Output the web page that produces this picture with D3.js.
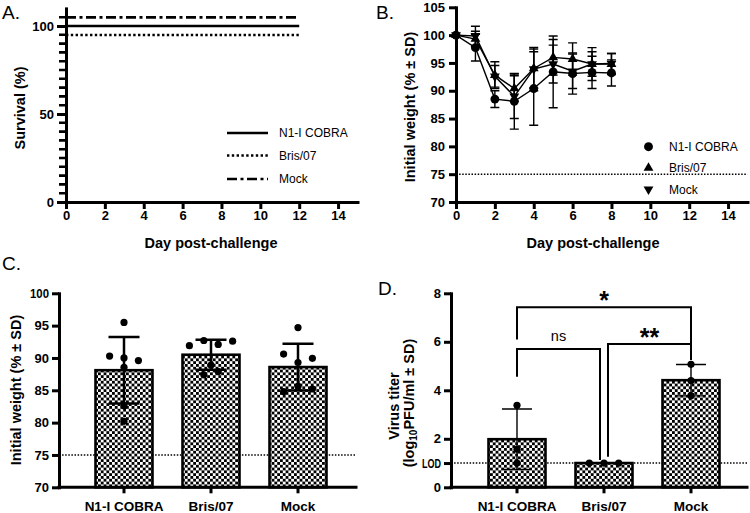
<!DOCTYPE html>
<html><head><meta charset="utf-8">
<script src="https://cdn.jsdelivr.net/npm/d3@7"></script>
<style>
body{margin:0;background:#fff;}
svg{display:block;}
</style></head><body>
<svg id="chart" width="750" height="513"></svg>
<script>
// ---------------- DATA ----------------
const groups = ["N1-I COBRA", "Bris/07", "Mock"];
const dayTicks = [0, 2, 4, 6, 8, 10, 12, 14];

// A. survival
const survivalDays = [0, 12];
const survivalCobra = [100, 100];
const survivalBris = [100, 100];
const survivalMock = [100, 100];
const survivalTicks = [0, 50, 100];
const survivalMinorTicks = [5,10,15,20,25,30,35,40,45,55,60,65,70,75,80,85,90,95,105];

// B. weight curves
const weightDays = [0, 1, 2, 3, 4, 5, 6, 7, 8];
const weightCobraMean = [100, 97.75, 88.5, 88.1, 90.4, 93.4, 93.1, 93.3, 93.2];
const weightCobraSD   = [0, 2.4, 1.5, 5.0, 6.6, 6.45, 3.7, 2.9, 2.35];
const weightBrisMean  = [100, 99.3, 92.8, 90.4, 94.0, 96.0, 95.7, 94.8, 94.8];
const weightBrisSD    = [0, 1.4, 2.4, 2.3, 3.5, 3.2, 2.9, 2.95, 1.9];
const weightMockMean  = [100, 99.85, 92.6, 89.0, 93.9, 94.8, 93.5, 94.8, 94.9];
const weightMockSD    = [0, 1.75, 1.95, 4.0, 3.9, 3.4, 3.1, 2.2, 1.8];
const weightTicks = [70, 75, 80, 85, 90, 95, 100, 105];
const weightThreshold = 75;

// C. individual weights
const nadirCobra = [95.5, 90.3, 90.0, 89.6, 88.55, 82.6, 80.2];
const nadirBris  = [91.9, 92.7, 92.1, 92.6, 88.9, 87.4, 87.9];
const nadirMock  = [94.7, 90.6, 89.3, 89.95, 84.8, 85.6, 85.2];
const nadirTicks = [70, 75, 80, 85, 90, 95, 100];

// D. virus titers
const titerCobra = [3.38, 1.57, 1.0];
const titerBris  = [1.0, 1.0, 1.0];
const titerMock  = [5.07, 4.4, 3.78];
const titerTicks = [0, 1, 2, 4, 6, 8];
const titerTickLabels = ["0", "LOD", "2", "4", "6", "8"];
const titerLOD = 1;

// significance comparisons (group indices, label, bracket level / leg ends in log10 units)
const sigPairs  = [[0, 2], [0, 1], [1, 2]];
const sigLabels = ["*", "ns", "**"];
const sigLevel  = [7.42, 5.7, 5.91];
const sigLegA   = [6.1, 4.56, 1.26];
const sigLegB   = [5.8, 1.13, 5.25];

// ---------------- DRAWING ----------------
const FONT = '"Liberation Sans", Arial, Helvetica, sans-serif';
const svg = d3.select("#chart").attr("font-family", FONT);

const defs = svg.append("defs");
const CS = 2.8;
const pat = defs.append("pattern").attr("id", "checker")
  .attr("patternUnits", "userSpaceOnUse").attr("width", 2 * CS).attr("height", 2 * CS);
pat.append("rect").attr("width", 2 * CS).attr("height", 2 * CS).attr("fill", "#fff");
pat.append("rect").attr("width", CS).attr("height", CS).attr("fill", "#000");
pat.append("rect").attr("x", CS).attr("y", CS).attr("width", CS).attr("height", CS).attr("fill", "#000");

function styleAxis(g, fs) {
  g.attr("font-family", FONT).attr("font-size", fs || 13).attr("font-weight", "bold");
  g.select(".domain").attr("stroke", "#000").attr("stroke-width", 3).attr("stroke-linecap", "square");
  g.selectAll(".tick line").attr("stroke", "#000").attr("stroke-width", 3);
  g.selectAll(".tick text").attr("fill", "#000");
}
function panelLabel(txt, x, y) {
  svg.append("text").attr("x", x).attr("y", y).attr("font-size", 19).attr("fill", "#000").text(txt);
}
function yTitle(txt, x, y) {
  svg.append("text").attr("transform", `translate(${x},${y}) rotate(-90)`)
    .attr("text-anchor", "middle").attr("font-size", 14.5).attr("font-weight", "bold").text(txt);
}
function xTitle(txt, x, y) {
  svg.append("text").attr("x", x).attr("y", y).attr("text-anchor", "middle")
    .attr("font-size", 14.5).attr("font-weight", "bold").text(txt);
}

// ===== Panel A =====
const xA = d3.scaleLinear().domain([0, 15]).range([66, 357.5]);
const yA = d3.scaleLinear().domain([0, 110]).range([202, 8.4]);
const gA = svg.append("g");
gA.append("g").attr("transform", `translate(${xA(0)},0)`)
  .call(d3.axisLeft(yA).tickValues(survivalTicks).tickSize(9).tickSizeOuter(0).tickPadding(3))
  .call(g => styleAxis(g, 13));
gA.append("path")
  .attr("d", survivalMinorTicks.map(v => `M${xA(0) - 7},${yA(v)}H${xA(0)}`).join(""))
  .attr("stroke", "#000").attr("stroke-width", 2.6).attr("fill", "none");
gA.append("g").attr("transform", `translate(0,${yA(0)})`)
  .call(d3.axisBottom(xA).tickValues(dayTicks).tickSize(7).tickSizeOuter(0).tickPadding(2))
  .call(g => styleAxis(g, 13));

const survSeries = [
  { name: groups[0], values: survivalCobra, dash: null, nudge: 0 },
  { name: groups[1], values: survivalBris, dash: "2.4,2.4", nudge: 9 },
  { name: groups[2], values: survivalMock, dash: "10,3.5,3,3.5", nudge: -8.7 }
];
survSeries.forEach((s, k) => {
  const line = d3.line().curve(d3.curveStepAfter)
    .x((d, i) => xA(survivalDays[i])).y(d => yA(d) + s.nudge);
  gA.append("path").datum(s.values).attr("d", line).attr("fill", "none")
    .attr("stroke", "#000").attr("stroke-width", 2.7).attr("stroke-dasharray", s.dash);
  const ly = [133, 155.5, 179][k];
  gA.append("line").attr("x1", 227).attr("x2", 268).attr("y1", ly).attr("y2", ly)
    .attr("stroke", "#000").attr("stroke-width", 2.7).attr("stroke-dasharray", s.dash);
  gA.append("text").attr("x", 279).attr("y", ly + 4.3).attr("font-size", 12).text(s.name);
});
panelLabel("A.", 2, 19);
yTitle("Survival (%)", 25, 108);
xTitle("Day post-challenge", 211, 248);

// ===== Panel B =====
const xB = d3.scaleLinear().domain([0, 15]).range([456, 747.5]);
const yB = d3.scaleLinear().domain([70, 105]).range([202, 7.3]);
const gB = svg.append("g");
gB.append("line").attr("x1", xB(0)).attr("x2", xB(15)).attr("y1", yB(weightThreshold)).attr("y2", yB(weightThreshold))
  .attr("stroke", "#000").attr("stroke-width", 1.5).attr("stroke-dasharray", "1.5,1.6");
gB.append("g").attr("transform", `translate(${xB(0)},0)`)
  .call(d3.axisLeft(yB).tickValues(weightTicks).tickSize(7).tickSizeOuter(0).tickPadding(4))
  .call(g => styleAxis(g, 13));
gB.append("g").attr("transform", `translate(0,${yB(70)})`)
  .call(d3.axisBottom(xB).tickValues(dayTicks).tickSize(7).tickSizeOuter(0).tickPadding(2))
  .call(g => styleAxis(g, 13));

const symCircle = d3.symbol().type(d3.symbolCircle).size(62)();
const symTri = d3.symbol().type(d3.symbolTriangle).size(42)();
const weightSeries = [
  { name: groups[2], mean: weightMockMean, sd: weightMockSD, sym: symTri, rot: 180 },
  { name: groups[1], mean: weightBrisMean, sd: weightBrisSD, sym: symTri, rot: 0 },
  { name: groups[0], mean: weightCobraMean, sd: weightCobraSD, sym: symCircle, rot: 0 }
];
weightSeries.forEach(s => {
  weightDays.forEach((d, i) => {
    if (s.sd[i] <= 0) return;
    const x = xB(d), y1 = yB(s.mean[i] - s.sd[i]), y2 = yB(s.mean[i] + s.sd[i]);
    gB.append("path").attr("d", `M${x},${y1}V${y2}M${x - 4.5},${y1}H${x + 4.5}M${x - 4.5},${y2}H${x + 4.5}`)
      .attr("stroke", "#000").attr("stroke-width", 1.4).attr("fill", "none");
  });
});
weightSeries.forEach(s => {
  const line = d3.line().x((d, i) => xB(weightDays[i])).y(d => yB(d));
  gB.append("path").datum(s.mean).attr("d", line).attr("fill", "none")
    .attr("stroke", "#000").attr("stroke-width", 1.4);
});
weightSeries.forEach(s => {
  gB.selectAll(null).data(s.mean).enter().append("path")
    .attr("d", s.sym)
    .attr("transform", (d, i) => `translate(${xB(weightDays[i])},${yB(d)}) rotate(${s.rot})`)
    .attr("fill", "#000");
});
// legend B
[{ name: groups[0], sym: symCircle, rot: 0 }, { name: groups[1], sym: symTri, rot: 0 }, { name: groups[2], sym: symTri, rot: 180 }]
  .forEach((s, k) => {
    const ly = [146.7, 168, 189.3][k];
    gB.append("path").attr("d", s.sym).attr("transform", `translate(648.5,${ly}) rotate(${s.rot})`).attr("fill", "#000");
    gB.append("text").attr("x", 669).attr("y", ly + 4.3).attr("font-size", 12).text(s.name);
  });
panelLabel("B.", 376, 19);
yTitle("Initial weight (% \u00B1 SD)", 415, 107);
xTitle("Day post-challenge", 593, 248);

// ===== helpers for bar panels =====
function rowOffsets(values, yScale, spacing, thresh) {
  const idx = values.map((v, i) => i).sort((a, b) => values[b] - values[a]);
  const rows = []; let cur = [idx[0]];
  for (let k = 1; k < idx.length; k++) {
    if (Math.abs(yScale(values[idx[k]]) - yScale(values[idx[k - 1]])) < thresh) cur.push(idx[k]);
    else { rows.push(cur); cur = [idx[k]]; }
  }
  rows.push(cur);
  const off = new Array(values.length);
  rows.forEach(r => { r.sort((a, b) => a - b); r.forEach((i, j) => off[i] = (j - (r.length - 1) / 2) * spacing); });
  return off;
}

function barPanel(cfg) {
  const g = svg.append("g");
  const x = cfg.x, y = cfg.y;
  const base = y.domain()[0];
  g.append("line").attr("x1", cfg.axisX).attr("x2", cfg.axisEnd).attr("y1", y(cfg.refLine)).attr("y2", y(cfg.refLine))
    .attr("stroke", "#000").attr("stroke-width", 1.5).attr("stroke-dasharray", "1.5,1.6");
  cfg.data.forEach((vals, k) => {
    const m = d3.mean(vals), sd = d3.deviation(vals) || 0;
    const cx = x(groups[k]) + x.bandwidth() / 2;
    g.append("rect").attr("x", x(groups[k])).attr("width", x.bandwidth())
      .attr("y", y(m)).attr("height", y(base) - y(m))
      .attr("fill", "url(#checker)").attr("stroke", "#000").attr("stroke-width", 2.6);
    if (sd > 0) {
      const y1 = y(m - sd), y2 = y(m + sd), hw = cfg.capHalf;
      g.append("path").attr("d", `M${cx},${y1}V${y2}M${cx - hw},${y1}H${cx + hw}M${cx - hw},${y2}H${cx + hw}`)
        .attr("stroke", "#000").attr("stroke-width", cfg.errW).attr("fill", "none");
    }
    const off = rowOffsets(vals, y, cfg.spacing, 6);
    g.selectAll(null).data(vals).enter().append("circle")
      .attr("cx", (d, i) => cx + off[i]).attr("cy", d => y(d)).attr("r", 3.6).attr("fill", "#000");
  });
  // axes
  g.append("line").attr("x1", cfg.axisX).attr("x2", cfg.axisEnd).attr("y1", y(base)).attr("y2", y(base))
    .attr("stroke", "#000").attr("stroke-width", 3).attr("stroke-linecap", "square");
  g.append("g").attr("transform", `translate(0,${y(base)})`)
    .call(d3.axisBottom(x).tickSize(6).tickSizeOuter(0).tickPadding(8.5))
    .call(a => { styleAxis(a, 13.5); a.select(".domain").remove(); });
  const ax = d3.axisLeft(y).tickValues(cfg.ticks).tickSize(7).tickSizeOuter(0).tickPadding(3);
  if (cfg.tickLabels) ax.tickFormat((d, i) => cfg.tickLabels[i]);
  const ya = g.append("g").attr("transform", `translate(${cfg.axisX},0)`).call(ax).call(a => styleAxis(a, 13));
  ya.selectAll(".tick text").filter(function () { return this.textContent.length > 2; })
    .attr("textLength", 19).attr("lengthAdjust", "spacingAndGlyphs");
  return g;
}

// ===== Panel C =====
const xC = d3.scaleBand().domain(groups).range([80.5, 341.5]).paddingInner(0.345).paddingOuter(0.1725);
const yC = d3.scaleLinear().domain([70, 100]).range([487.3, 293.3]);
barPanel({ x: xC, y: yC, axisX: 59, axisEnd: 356, refLine: weightThreshold, data: [nadirCobra, nadirBris, nadirMock],
  ticks: nadirTicks, spacing: 14.4, capHalf: 15.5, errW: 2.5 });
panelLabel("C.", 2, 270);
yTitle("Initial weight (% \u00B1 SD)", 21, 390);

// ===== Panel D =====
const xD = d3.scaleBand().domain(groups).range([473.5, 734.5]).paddingInner(0.345).paddingOuter(0.1725);
const yD = d3.scaleLinear().domain([0, 8]).range([487.3, 293.3]);
const gD = barPanel({ x: xD, y: yD, axisX: 451, axisEnd: 747, refLine: titerLOD, data: [titerCobra, titerBris, titerMock],
  ticks: titerTicks, tickLabels: titerTickLabels, spacing: 14.7, capHalf: 15, errW: 1.4 });
const sigNudge = [[0, 0], [0, -4], [4, 0]];
sigPairs.forEach((p, k) => {
  const xa = xD(groups[p[0]]) + xD.bandwidth() / 2 + sigNudge[k][0];
  const xb = xD(groups[p[1]]) + xD.bandwidth() / 2 + sigNudge[k][1];
  const yl = yD(sigLevel[k]);
  gD.append("path").attr("d", `M${xa},${yD(sigLegA[k])}V${yl}H${xb}V${yD(sigLegB[k])}`)
    .attr("fill", "none").attr("stroke", "#000").attr("stroke-width", 2);
  const isStar = sigLabels[k].indexOf("*") >= 0;
  gD.append("text").attr("x", (xa + xb) / 2).attr("y", isStar ? yl + 2 : yl - 8.5)
    .attr("text-anchor", "middle").attr("font-size", isStar ? 25 : 14.5)
    .attr("font-weight", isStar ? "bold" : "normal").text(sigLabels[k]);
});
panelLabel("D.", 378, 295);
yTitle("Virus titer", 399, 406);
const t2 = svg.append("text").attr("transform", "translate(414,403) rotate(-90)")
  .attr("text-anchor", "middle").attr("font-size", 14.5).attr("font-weight", "bold");
t2.append("tspan").text("(log");
t2.append("tspan").attr("font-size", 10).attr("dy", 3).text("10");
t2.append("tspan").attr("dy", -3).text("PFU/ml \u00B1 SD)");
</script>
</body></html>
